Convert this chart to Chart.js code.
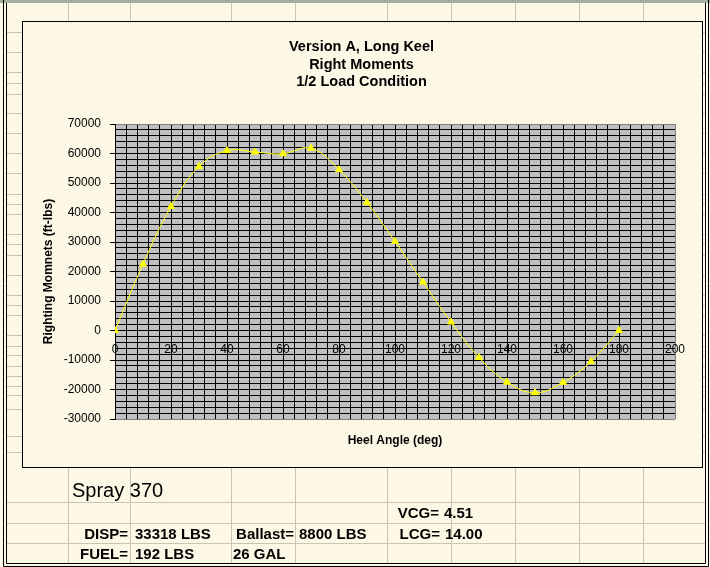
<!DOCTYPE html>
<html>
<head>
<meta charset="utf-8">
<script src="https://cdn.jsdelivr.net/npm/chart.js@4/dist/chart.umd.min.js"></script>
<style>
  html, body { margin: 0; padding: 0; background: #fdf8e6; }
  #wrap { position: relative; width: 710px; height: 567px; overflow: hidden; }
  #chart { position: absolute; left: 0; top: 0; }
  .cell { position: absolute; font-family: "Liberation Sans", Arial, sans-serif; color: #000; white-space: nowrap; line-height: 1; }
  .b { font-size: 15px; font-weight: bold; }
  .r { text-align: right; }
</style>
</head>
<body>
<div id="wrap">
  <canvas id="chart" width="710" height="567"></canvas>
  <div class="cell" style="left:72px; top:480px; font-size:20px;">Spray 370</div>
  <div class="cell b r" style="right:271px; top:505px;">VCG=</div>
  <div class="cell b" style="left:444px; top:505px;">4.51</div>
  <div class="cell b r" style="right:582px; top:526px;">DISP=</div>
  <div class="cell b" style="left:135px; top:526px;">33318 LBS</div>
  <div class="cell b r" style="right:416px; top:526px;">Ballast=</div>
  <div class="cell b" style="left:299px; top:526px;">8800 LBS</div>
  <div class="cell b r" style="right:270px; top:526px;">LCG=</div>
  <div class="cell b" style="left:445px; top:526px;">14.00</div>
  <div class="cell b r" style="right:582px; top:546px;">FUEL=</div>
  <div class="cell b" style="left:135px; top:546px;">192 LBS</div>
  <div class="cell b" style="left:233px; top:546px;">26 GAL</div>
</div>
<script>
// Courbe de stabilité : angle de gîte (deg) / moment de redressement (ft-lbs)
const heelAngles = [0, 10, 20, 30, 40, 50, 60, 70, 80, 90, 100, 110, 120, 130, 140, 150, 160, 170, 180];
const rightingMoments = [0, 22500, 42000, 55600, 61000, 60500, 59900, 61800, 54500, 43400, 30200, 16400, 2850, -9150, -17500, -21100, -17600, -10500, 0];

const titleLines = ['Version A, Long Keel', 'Right Moments', '1/2 Load Condition'];
const xAxisTitle = 'Heel Angle (deg)';
const yAxisTitle = 'Righting Momnets (ft-lbs)';

const CREAM = '#fdf8e6';
const PLOT_GRAY = '#c0c0c0';
const EDGE_GRAY = '#808080';

// lignes du tableur derrière le graphique (décor seulement)
const sheetCols = [68, 130, 231, 295, 387, 451, 515, 579, 643];
const sheetRows = [32, 52, 72, 83, 94, 113, 133, 153, 173, 194, 204, 214, 234, 244, 255, 275, 295, 305, 315, 335, 346, 355, 366, 376, 386, 395, 409, 436, 452, 502, 523, 543];

const sheetBackdrop = {
    id: 'sheetBackdrop',
    beforeDraw(chart) {
        const ctx = chart.ctx;
        const area = chart.chartArea;
        ctx.save();
        ctx.fillStyle = CREAM;
        ctx.fillRect(0, 0, chart.width, chart.height);

        ctx.strokeStyle = '#cbc4b2';
        ctx.lineWidth = 1;
        ctx.beginPath();
        sheetCols.forEach(x => { ctx.moveTo(x + 0.5, 0); ctx.lineTo(x + 0.5, 563); });
        sheetRows.forEach(y => { ctx.moveTo(6, y + 0.5); ctx.lineTo(705, y + 0.5); });
        ctx.stroke();

        // bandeau d'en-tête
        ctx.fillStyle = '#a3ae9e';
        ctx.fillRect(0, 0, chart.width, 3);

        // double cadre de la fenêtre
        ctx.strokeStyle = '#000';
        ctx.beginPath();
        ctx.moveTo(3.5, 0); ctx.lineTo(3.5, 566.5); ctx.lineTo(708.5, 566.5); ctx.lineTo(708.5, 0);
        ctx.moveTo(6.5, 3); ctx.lineTo(6.5, 563.5); ctx.lineTo(705.5, 563.5); ctx.lineTo(705.5, 3);
        ctx.stroke();

        // zone du graphique
        ctx.fillStyle = CREAM;
        ctx.fillRect(22, 21, 681, 446);
        ctx.strokeRect(22.5, 21.5, 680, 446);

        // zone de tracé
        ctx.fillStyle = PLOT_GRAY;
        ctx.fillRect(area.left, area.top, area.right - area.left, area.bottom - area.top);
        ctx.restore();
    }
};

Chart.defaults.font.family = '"Liberation Sans", Arial, sans-serif';
Chart.defaults.color = '#000';

const ctx = document.getElementById('chart').getContext('2d');
new Chart(ctx, {
    type: 'line',
    data: {
        datasets: [{
            data: heelAngles.map((a, i) => ({ x: a, y: rightingMoments[i] })),
            borderColor: '#ffff00',
            borderWidth: 1,
            tension: 0.4,
            pointStyle: 'triangle',
            pointRadius: 4,
            pointBackgroundColor: '#ffff00',
            pointBorderColor: '#ffff00',
            pointBorderWidth: 1
        }]
    },
    options: {
        responsive: false,
        animation: false,
        devicePixelRatio: 1,
        layout: { padding: { left: 48, right: 35, top: 0, bottom: 100 } },
        plugins: {
            legend: { display: false },
            tooltip: { enabled: false },
            title: {
                display: true,
                text: titleLines,
                font: { size: 14.5, weight: 'bold', lineHeight: '17.5px' },
                color: '#000',
                padding: { top: 38.25, bottom: 33.25 }
            }
        },
        scales: {
            x: {
                type: 'linear',
                position: { y: 0 },
                min: 0,
                max: 200,
                ticks: {
                    stepSize: 4,
                    autoSkip: false,
                    maxRotation: 0,
                    padding: 12,
                    font: { size: 12 },
                    callback: v => (v % 20 === 0 ? String(v) : '')
                },
                grid: {
                    drawTicks: false,
                    color: c => (c.tick && c.tick.value === 200 ? EDGE_GRAY : '#000')
                },
                border: { color: '#000' }
            },
            x2: {
                type: 'linear',
                axis: 'x',
                position: 'bottom',
                min: 0,
                max: 200,
                ticks: { display: false },
                grid: { display: false },
                border: { display: false },
                title: {
                    display: true,
                    text: xAxisTitle,
                    font: { size: 12, weight: 'bold' },
                    padding: { top: 0, bottom: 19 }
                },
                afterFit: s => { s.height = 48; }
            },
            y: {
                type: 'linear',
                position: 'left',
                min: -30000,
                max: 70000,
                ticks: {
                    stepSize: 2000,
                    autoSkip: false,
                    padding: 9,
                    font: { size: 12 },
                    callback: v => (v % 10000 === 0 ? String(v) : '')
                },
                grid: {
                    tickLength: 5,
                    color: c => (c.tick && (c.tick.value === -30000 || c.tick.value === 70000) ? EDGE_GRAY : '#000'),
                    tickColor: c => (c.tick && c.tick.value % 10000 === 0 ? '#000' : 'rgba(0,0,0,0)')
                },
                border: { color: '#000' },
                title: {
                    display: true,
                    text: yAxisTitle,
                    font: { size: 12, weight: 'bold' },
                    padding: { top: -6.7, bottom: 0 }
                },
                afterFit: s => { s.width = 67; }
            }
        }
    },
    plugins: [sheetBackdrop]
});
</script>
</body>
</html>
